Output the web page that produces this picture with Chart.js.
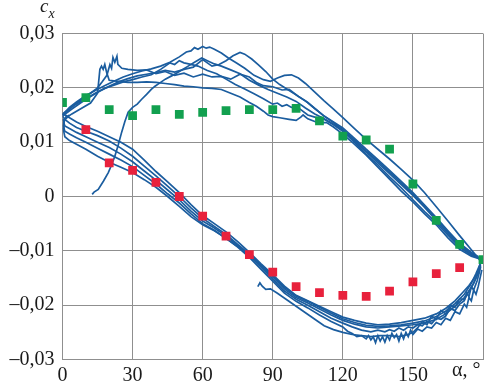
<!DOCTYPE html>
<html>
<head>
<meta charset="utf-8">
<title>cx vs alpha</title>
<style>
  body { margin: 0; background: #fff; }
  #chart { display: block; }
</style>
</head>
<body>
<canvas id="chart" width="493" height="385"></canvas>
<script src="https://cdn.jsdelivr.net/npm/chart.js"></script>
<script>
// squares (model points)
var greenAngles = [0,10,20,30,40,50,60,70,80,90,100,110,120,130,140,150,160,170,180];
var greenCx = [0.0173,0.0182,0.0160,0.0149,0.0160,0.0151,0.0155,0.0158,0.0160,0.0160,0.0162,0.0139,0.0111,0.0104,0.0087,0.0023,-0.0044,-0.0088,-0.0116];
var redAngles = [10,20,30,40,50,60,70,80,90,100,110,120,130,140,150,160,170];
var redCx = [0.0123,0.0062,0.0048,0.0026,0.0000,-0.0036,-0.0073,-0.0107,-0.0139,-0.0166,-0.0177,-0.0182,-0.0184,-0.0174,-0.0157,-0.0142,-0.0131];

// measured curves, [alpha, cx]
var upper1 = [[0,0.0150],[3,0.0164],[6,0.0174],[10,0.0186],[14,0.0195],[18,0.0204],[22,0.0212],[26,0.0220],[30,0.0226],[34,0.0231],[38,0.0235],[42,0.0240],[46,0.0247],[50,0.0257],[53,0.0266],[55,0.0268],[56.5,0.0274],[58,0.0271],[60,0.0276],[61.5,0.0273],[63,0.0275],[65,0.0271],[68,0.0264],[71,0.0255],[74,0.0247],[78,0.0236],[82,0.0223],[86,0.0215],[89,0.0212],[92,0.0218],[95,0.0223],[98,0.0224],[101,0.0218],[104,0.0208],[108,0.0192],[112,0.0176],[116,0.0161],[120,0.0145],[125,0.0125],[130,0.0105],[135,0.0087],[140,0.0069],[145,0.0050],[150,0.0030],[155,0.0007],[160,-0.0019],[165,-0.0045],[170,-0.0072],[175,-0.0098],[179,-0.0119]];
var upper2 = [[0,0.0148],[4,0.0161],[8,0.0173],[12,0.0184],[16,0.0194],[20,0.0203],[24,0.0211],[28,0.0217],[32,0.0222],[36,0.0225],[40,0.0228],[44,0.0232],[48,0.0229],[52,0.0234],[56,0.0238],[58,0.0245],[60,0.0252],[62,0.0246],[64,0.0240],[67,0.0243],[70,0.0250],[73,0.0259],[76,0.0265],[78,0.0262],[81,0.0253],[84,0.0242],[87,0.0230],[90,0.0216],[93,0.0206],[96,0.0198],[100,0.0187],[104,0.0176],[108,0.0162],[112,0.0148],[116,0.0137],[120,0.0126],[125,0.0107],[130,0.0087],[135,0.0068],[140,0.0048],[145,0.0028],[150,0.0007],[155,-0.0016],[160,-0.0039],[165,-0.0063],[170,-0.0086],[175,-0.0103],[178,-0.0111]];
var upper3 = [[0,0.0152],[4,0.0165],[8,0.0178],[12,0.0190],[15,0.0200],[17,0.0211],[19,0.0223],[20.3,0.0243],[21,0.0236],[21.6,0.0256],[22.4,0.0247],[23.3,0.0258],[23.7,0.0243],[25.4,0.0236],[28,0.0234],[32,0.0232],[36,0.0233],[40,0.0226],[44,0.0230],[48,0.0223],[52,0.0227],[56,0.0220],[60,0.0225],[64,0.0220],[68,0.0221],[72,0.0216],[76,0.0225],[80,0.0220],[83,0.0210],[86,0.0204],[90,0.0202],[94,0.0196],[97,0.0197],[101,0.0184],[105,0.0173],[108,0.0162],[112,0.0148],[116,0.0136],[120,0.0122],[125,0.0102],[130,0.0082],[135,0.0062],[140,0.0042],[145,0.0022],[150,0.0002],[155,-0.0020],[160,-0.0044],[165,-0.0068],[170,-0.0090],[175,-0.0106],[178.5,-0.0113]];
var upper4 = [[0,0.0140],[4,0.0152],[8,0.0162],[12,0.0172],[15,0.0190],[16,0.0234],[16.7,0.0240],[17.4,0.0234],[18.1,0.0243],[18.9,0.0228],[20,0.0214],[24,0.0212],[28,0.0210],[32,0.0210],[36,0.0211],[40,0.0210],[44,0.0208],[48,0.0206],[52,0.0203],[56,0.0202],[60,0.0200],[64,0.0199],[68,0.0197],[72,0.0190],[76,0.0183],[80,0.0173],[83,0.0166],[86,0.0157],[88,0.0150],[90,0.0147],[93,0.0145],[97,0.0142],[100,0.0140],[102,0.0146],[103,0.0150],[105,0.0143],[108,0.0138],[110,0.0136],[113,0.0136],[116,0.0128],[119,0.0118],[124,0.0100],[130,0.0076],[135,0.0054],[140,0.0032],[145,0.0010],[150,-0.0010],[155,-0.0032],[160,-0.0052],[165,-0.0076],[170,-0.0097],[175,-0.0110],[178,-0.0114]];
var upper5 = [[0,0.0150],[5,0.0168],[10,0.0180],[14,0.0190],[18,0.0199],[22,0.0205],[26,0.0211],[30,0.0215],[34,0.0220],[38,0.0224],[42,0.0234],[46,0.0246],[48,0.0243],[50,0.0250],[52,0.0246],[54,0.0244],[58,0.0240],[62,0.0232],[66,0.0226],[70,0.0216],[74,0.0206],[78,0.0198],[82,0.0189],[86,0.0180],[90,0.0170],[92,0.0172],[94,0.0166],[96,0.0169],[98,0.0164],[100,0.0166],[102,0.0160],[105,0.0150],[108,0.0146],[112,0.0142],[116,0.0132],[120,0.0120],[125,0.0100],[130,0.0078],[135,0.0058],[140,0.0036],[145,0.0016],[150,-0.0006],[155,-0.0028],[160,-0.0048],[165,-0.0071],[170,-0.0093],[175,-0.0108],[178,-0.0113]];
var rising = [[12.7,0.0004],[13.5,0.0008],[15.3,0.0013],[17.5,0.0028],[19.6,0.0044],[21,0.0058],[22.4,0.0074],[23.8,0.0094],[25.3,0.0118],[26.7,0.0138],[28.1,0.0155],[30,0.0164],[32,0.0170],[33.9,0.0179],[36,0.0188],[38,0.0197],[39.6,0.0203],[42,0.0210],[44,0.0216],[46.7,0.0222],[50,0.0230],[53.8,0.0240],[56.5,0.0247],[59.6,0.0255],[62,0.0250],[65,0.0244],[68,0.0240],[72,0.0233],[76,0.0226],[80,0.0214],[84,0.0205],[88,0.0197],[92,0.0190],[96,0.0183],[100,0.0175],[104,0.0163],[108,0.0152],[112,0.0143],[116,0.0133],[120,0.0123],[125,0.0104],[130,0.0084],[135,0.0065],[140,0.0045],[145,0.0025],[150,0.0004],[155,-0.0018],[160,-0.0041],[165,-0.0065],[170,-0.0088],[175,-0.0104],[178,-0.0112]];

var lower1 = [[179,-0.0120],[178,-0.0138],[176,-0.0152],[174,-0.0164],[171,-0.0178],[168,-0.0192],[164,-0.0206],[160,-0.0216],[155,-0.0224],[150,-0.0228],[145,-0.0232],[140,-0.0235],[135,-0.0236],[130,-0.0233],[125,-0.0228],[120,-0.0222],[115,-0.0212],[110,-0.0202],[105,-0.0192],[100,-0.0182],[95,-0.0165],[90,-0.0144],[85,-0.0124],[80,-0.0103],[75,-0.0083],[70,-0.0065],[65,-0.0050],[60,-0.0035],[55,-0.0015],[50,0.0007],[45,0.0027],[40,0.0046],[35,0.0067],[30,0.0087],[25,0.0100],[20,0.0110],[15,0.0120],[10,0.0129],[6,0.0137],[3,0.0145],[1,0.0150],[0,0.0152]];
var lower2 = [[179,-0.0125],[177,-0.0150],[175,-0.0168],[172,-0.0186],[168,-0.0202],[164,-0.0216],[160,-0.0226],[155,-0.0233],[150,-0.0236],[145,-0.0238],[140,-0.0240],[135,-0.0242],[130,-0.0240],[125,-0.0235],[120,-0.0228],[115,-0.0218],[110,-0.0207],[105,-0.0196],[100,-0.0186],[95,-0.0170],[90,-0.0148],[85,-0.0128],[80,-0.0106],[75,-0.0088],[70,-0.0070],[65,-0.0055],[60,-0.0040],[55,-0.0021],[50,0.0000],[45,0.0019],[40,0.0038],[35,0.0056],[30,0.0074],[25,0.0089],[20,0.0102],[15,0.0112],[10,0.0120],[6,0.0127],[3,0.0135],[1,0.0142],[0,0.0148]];
var lower3 = [[179,-0.0130],[177.5,-0.0155],[176,-0.0172],[175,-0.0166],[174,-0.0184],[173,-0.0178],[172,-0.0192],[170,-0.0198],[168,-0.0210],[166,-0.0206],[164,-0.0220],[162,-0.0226],[160,-0.0224],[158,-0.0234],[156,-0.0230],[154,-0.0238],[152,-0.0236],[150,-0.0242],[148,-0.0240],[146,-0.0246],[144,-0.0242],[142,-0.0248],[140,-0.0245],[138,-0.0249],[135,-0.0246],[132,-0.0249],[128,-0.0246],[124,-0.0240],[120,-0.0233],[115,-0.0224],[110,-0.0212],[105,-0.0200],[100,-0.0189],[95,-0.0174],[90,-0.0152],[85,-0.0130],[80,-0.0109],[75,-0.0090],[70,-0.0073],[65,-0.0058],[60,-0.0045],[55,-0.0027],[50,-0.0006],[45,0.0012],[40,0.0030],[35,0.0047],[30,0.0064],[25,0.0078],[20,0.0090],[15,0.0100],[10,0.0110],[6,0.0118],[3,0.0125],[1,0.0130],[0.5,0.0136],[1.2,0.0143],[3,0.0150]];
var lower4 = [[179.5,-0.0135],[178,-0.0165],[177,-0.0180],[176,-0.0172],[175,-0.0192],[174,-0.0186],[173,-0.0204],[172,-0.0198],[170,-0.0216],[168,-0.0212],[166,-0.0228],[164,-0.0224],[162,-0.0236],[160,-0.0232],[158,-0.0242],[156,-0.0240],[154,-0.0248],[152,-0.0244],[150,-0.0254],[149,-0.0246],[148,-0.0258],[147,-0.0250],[146,-0.0262],[145,-0.0252],[144,-0.0266],[143,-0.0254],[142,-0.0260],[141,-0.0252],[140,-0.0264],[139,-0.0256],[138,-0.0268],[137,-0.0258],[136,-0.0266],[135,-0.0256],[134,-0.0269],[133,-0.0258],[132,-0.0264],[131,-0.0256],[130,-0.0262],[128,-0.0256],[126,-0.0258],[124,-0.0252],[122,-0.0248],[120,-0.0240],[115,-0.0230],[110,-0.0218],[105,-0.0205],[100,-0.0193],[95,-0.0178],[90,-0.0156],[85,-0.0134],[80,-0.0112],[75,-0.0093],[70,-0.0077],[65,-0.0062],[60,-0.0050],[55,-0.0032],[50,-0.0012],[45,0.0005],[40,0.0023],[35,0.0039],[30,0.0055],[25,0.0067],[20,0.0078],[15,0.0089],[10,0.0100],[6,0.0108],[3,0.0115],[1,0.0120],[0.3,0.0130],[0.8,0.0140],[2,0.0146]];
var lower5 = [[179,-0.0122],[177,-0.0142],[175,-0.0160],[172,-0.0180],[168,-0.0197],[164,-0.0211],[160,-0.0221],[155,-0.0229],[150,-0.0233],[145,-0.0236],[140,-0.0238],[135,-0.0239],[130,-0.0237],[125,-0.0232],[120,-0.0225],[115,-0.0215],[110,-0.0204],[105,-0.0193],[100,-0.0183],[95,-0.0167],[90,-0.0146],[85,-0.0126],[80,-0.0108],[75,-0.0092],[70,-0.0077],[65,-0.0063],[60,-0.0052],[55,-0.0037],[50,-0.0018],[45,0.0000],[40,0.0017],[35,0.0031],[30,0.0044],[25,0.0054],[20,0.0063],[15,0.0074],[10,0.0087],[6,0.0096],[3,0.0103],[1,0.0110],[0.3,0.0125],[0.6,0.0140],[2,0.0150]];
var lowerTail = [[83.6,-0.0166],[84.5,-0.0159],[85.5,-0.0165],[87,-0.0171],[89,-0.0170],[92,-0.0178],[96,-0.0190],[100,-0.0202],[104,-0.0214],[108,-0.0226],[112,-0.0238],[116,-0.0245],[120,-0.0250],[124,-0.0254],[128,-0.0256],[132,-0.0258],[136,-0.0256],[140,-0.0256],[144,-0.0258],[148,-0.0254],[150,-0.0250],[152,-0.0242],[154,-0.0230],[156,-0.0236],[158,-0.0220],[160,-0.0226],[162,-0.0210],[164,-0.0216],[166,-0.0200],[168,-0.0204],[170,-0.0188],[172,-0.0190],[174,-0.0174],[176,-0.0160],[178,-0.0140],[179,-0.0128]];

var curves = [upper1, upper2, upper3, upper4, upper5, rising, lower1, lower2, lower3, lower4, lower5, lowerTail];
var lineBlue = '#1b5d9f';
var gridGrey = '#8f8f8f';
var serif = '"Liberation Serif", "DejaVu Serif", serif';

function toPoints(xs, ys) {
  var pts = [];
  for (var i = 0; i < xs.length; i++) pts.push({x: xs[i], y: ys[i]});
  return pts;
}

var datasets = [];
datasets.push({
  data: toPoints(greenAngles, greenCx),
  pointStyle: 'rect', pointRadius: 6.2, pointBorderWidth: 0,
  backgroundColor: '#12a04f', borderColor: '#12a04f', showLine: false, order: 0
});
datasets.push({
  data: toPoints(redAngles, redCx),
  pointStyle: 'rect', pointRadius: 6.2, pointBorderWidth: 0,
  backgroundColor: '#e8213c', borderColor: '#e8213c', showLine: false, order: 0
});
for (var c = 0; c < curves.length; c++) {
  datasets.push({
    data: curves[c].map(function (p) { return {x: p[0], y: p[1]}; }),
    showLine: true, pointRadius: 0, borderColor: lineBlue, borderWidth: 1.7,
    tension: 0, fill: false, order: 1
  });
}

// axis labels drawn as text
var axisText = {
  id: 'axisText',
  afterDraw: function (chart) {
    var ctx = chart.ctx;
    ctx.save();
    ctx.fillStyle = '#1a1a1a';
    ctx.textBaseline = 'alphabetic';
    ctx.textAlign = 'left';
    ctx.font = 'italic 19px ' + serif;
    ctx.fillText('c', 40, 12);
    ctx.font = 'italic 14px ' + serif;
    ctx.fillText('x', 48.5, 18);
    ctx.font = '20px ' + serif;
    ctx.fillText('\u03b1, \u00b0', 452, 376);
    ctx.restore();
  }
};

new Chart(document.getElementById('chart'), {
  type: 'scatter',
  data: { datasets: datasets },
  options: {
    responsive: false,
    animation: false,
    layout: { padding: { left: 0, top: 33.5, right: 10, bottom: 0 } },
    plugins: { legend: { display: false }, tooltip: { enabled: false } },
    scales: {
      x: {
        type: 'linear', min: 0, max: 180,
        afterFit: function (s) { s.height = 25.5; },
        grid: { color: gridGrey, lineWidth: 1, drawTicks: false },
        border: { color: gridGrey, width: 1 },
        ticks: {
          stepSize: 30, padding: 4, color: '#1a1a1a', maxRotation: 0,
          font: { family: serif, size: 20 },
          callback: function (v) { return v === 180 ? '' : String(v); }
        }
      },
      y: {
        type: 'linear', min: -0.03, max: 0.03,
        afterFit: function (s) { s.width = 62.5; },
        grid: { color: gridGrey, lineWidth: 1, drawTicks: false },
        border: { color: gridGrey, width: 1 },
        ticks: {
          stepSize: 0.01, padding: 8, color: '#1a1a1a',
          font: { family: serif, size: 20 },
          callback: function (v) {
            var n = Math.round(v * 100);
            if (n === 0) return '0';
            var s = '0,0' + Math.abs(n);
            return n < 0 ? '\u2013' + s : s;
          }
        }
      }
    }
  },
  plugins: [axisText]
});
</script>
</body>
</html>
